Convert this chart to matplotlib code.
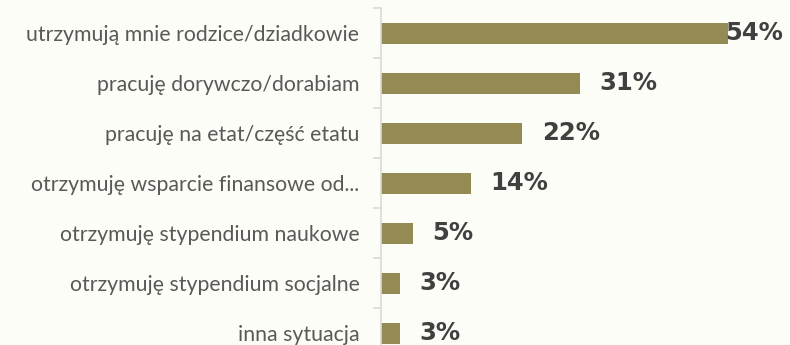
import numpy as np
import matplotlib
matplotlib.use("Agg")
import matplotlib.pyplot as plt

# źródła utrzymania (odsetek odpowiedzi)
labels = [
    "utrzymują mnie rodzice/dziadkowie",
    "pracuję dorywczo/dorabiam",
    "pracuję na etat/część etatu",
    "otrzymuję wsparcie finansowe od...",
    "otrzymuję stypendium naukowe",
    "otrzymuję stypendium socjalne",
    "inna sytuacja",
]
values = [54, 31, 22, 14, 5, 3, 3]

bar_color = "#948A54"
bg = "#FDFDF7"

W, H, dpi = 790, 345, 100
fig = plt.figure(figsize=(W / dpi, H / dpi), dpi=dpi, facecolor=bg)

# axes: spine at x=381 px, category rows 50 px tall starting at y=8 px
left, right = 381, 790
top, row = 8, 50
n = len(labels)
ax_h = row * n
ax = fig.add_axes([left / W, (H - top - ax_h) / H, (right - left) / W, ax_h / H])
ax.set_facecolor(bg)

y = np.arange(n)
ax.barh(y, values, height=0.42, color=bar_color, zorder=2)
ax.set_xlim(0, (right - left) / 6.43)
ax.set_ylim(n - 0.5, -0.5)

for s in ["top", "right", "bottom"]:
    ax.spines[s].set_visible(False)
ax.spines["left"].set_color("#D9D9D9")
ax.spines["left"].set_linewidth(1.2)
ax.set_xticks([])

ax.set_yticks(y)
ax.set_yticklabels(labels, fontsize=15.3, color="#595959", family="Lato")
ax.tick_params(axis="y", which="major", length=0, pad=15.5)
ax.set_yticks(np.arange(n + 1) - 0.5, minor=True)
ax.tick_params(axis="y", which="minor", length=6, color="#D9D9D9", width=1.2)

fig.canvas.draw()
renderer = fig.canvas.get_renderer()
for yi, v in zip(y, values):
    t = ax.annotate(f"{v}%", xy=(v, yi), xytext=(14, 0), textcoords="offset points",
                    ha="left", va="center", fontsize=17.5, fontweight="bold",
                    color="#404040", family="DejaVu Sans", zorder=3)
    bb = t.get_window_extent(renderer)
    limit = W - 7
    if bb.x1 > limit:
        # keep the label inside the figure, pulled back over the bar end
        shift = (bb.x1 - limit) * 72 / dpi
        t.set_position((14 - shift, 0))

fig.savefig("out.png", dpi=dpi, facecolor=bg)
